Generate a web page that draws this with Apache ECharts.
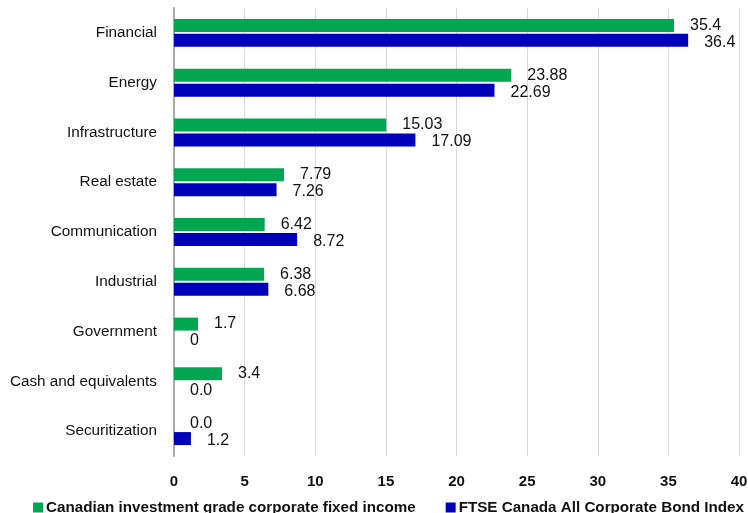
<!DOCTYPE html>
<html><head><meta charset="utf-8">
<script src="https://cdn.jsdelivr.net/npm/echarts@6/dist/echarts.min.js"></script>
<style>html,body{margin:0;padding:0;background:#fff}#c{width:748px;height:513px}</style>
</head><body><div id="c"></div>
<script>
const categories = ["Financial","Energy","Infrastructure","Real estate","Communication","Industrial","Government","Cash and equivalents","Securitization"];
const seriesNames = ["Canadian investment grade corporate fixed income","FTSE Canada All Corporate Bond Index"];
const greenValues = [35.4,23.88,15.03,7.79,6.42,6.38,1.7,3.4,0.0];
const blueValues = [36.4,22.69,17.09,7.26,8.72,6.68,0,0.0,1.2];
const greenLabels = ["35.4","23.88","15.03","7.79","6.42","6.38","1.7","3.4","0.0"];
const blueLabels = ["36.4","22.69","17.09","7.26","8.72","6.68","0","0.0","1.2"];
const xTicks = [0,5,10,15,20,25,30,35,40];

const font = '"Liberation Sans", Arial, sans-serif';
const chart = echarts.init(document.getElementById('c'));
chart.setOption({
  animation:false,
  textStyle:{fontFamily:font},
  grid:{left:174,right:9,top:8,bottom:57,containLabel:false,outerBoundsMode:'none'},
  legend:{
    top:500, left:33, right:0, padding:0, itemWidth:10, itemHeight:10, itemGap:30,
    icon:'rect',
    textStyle:{fontFamily:font,fontSize:15.2,fontWeight:'bold',color:'#111',padding:[0,0,0,-2]},
    data:seriesNames
  },
  xAxis:{
    type:'value', min:xTicks[0], max:xTicks[xTicks.length-1], interval:5,
    axisLine:{show:false}, axisTick:{show:false},
    splitLine:{lineStyle:{color:'#d9d9d9',width:1}},
    axisLabel:{fontFamily:font,fontSize:15,fontWeight:'bold',color:'#111',margin:18}
  },
  yAxis:{
    type:'category', data:categories, inverse:true,
    axisLine:{lineStyle:{color:'#aaaaaa',width:2}}, axisTick:{show:false},
    axisLabel:{fontFamily:font,fontSize:15.3,color:'#111',margin:17}
  },
  series:[
    {name:seriesNames[0],type:'bar',data:greenValues,barWidth:13,barGap:'15%',
     itemStyle:{color:'#00a651'},
     label:{show:true,position:'right',distance:16,fontFamily:font,fontSize:16,color:'#111',
       offset:[0,0],formatter:p=>greenLabels[p.dataIndex]}},
    {name:seriesNames[1],type:'bar',data:blueValues,barWidth:13,
     itemStyle:{color:'#0000bb'},
     label:{show:true,position:'right',distance:16,fontFamily:font,fontSize:16,color:'#111',
       offset:[0,2],formatter:p=>blueLabels[p.dataIndex]}}
  ]
});
</script></body></html>
